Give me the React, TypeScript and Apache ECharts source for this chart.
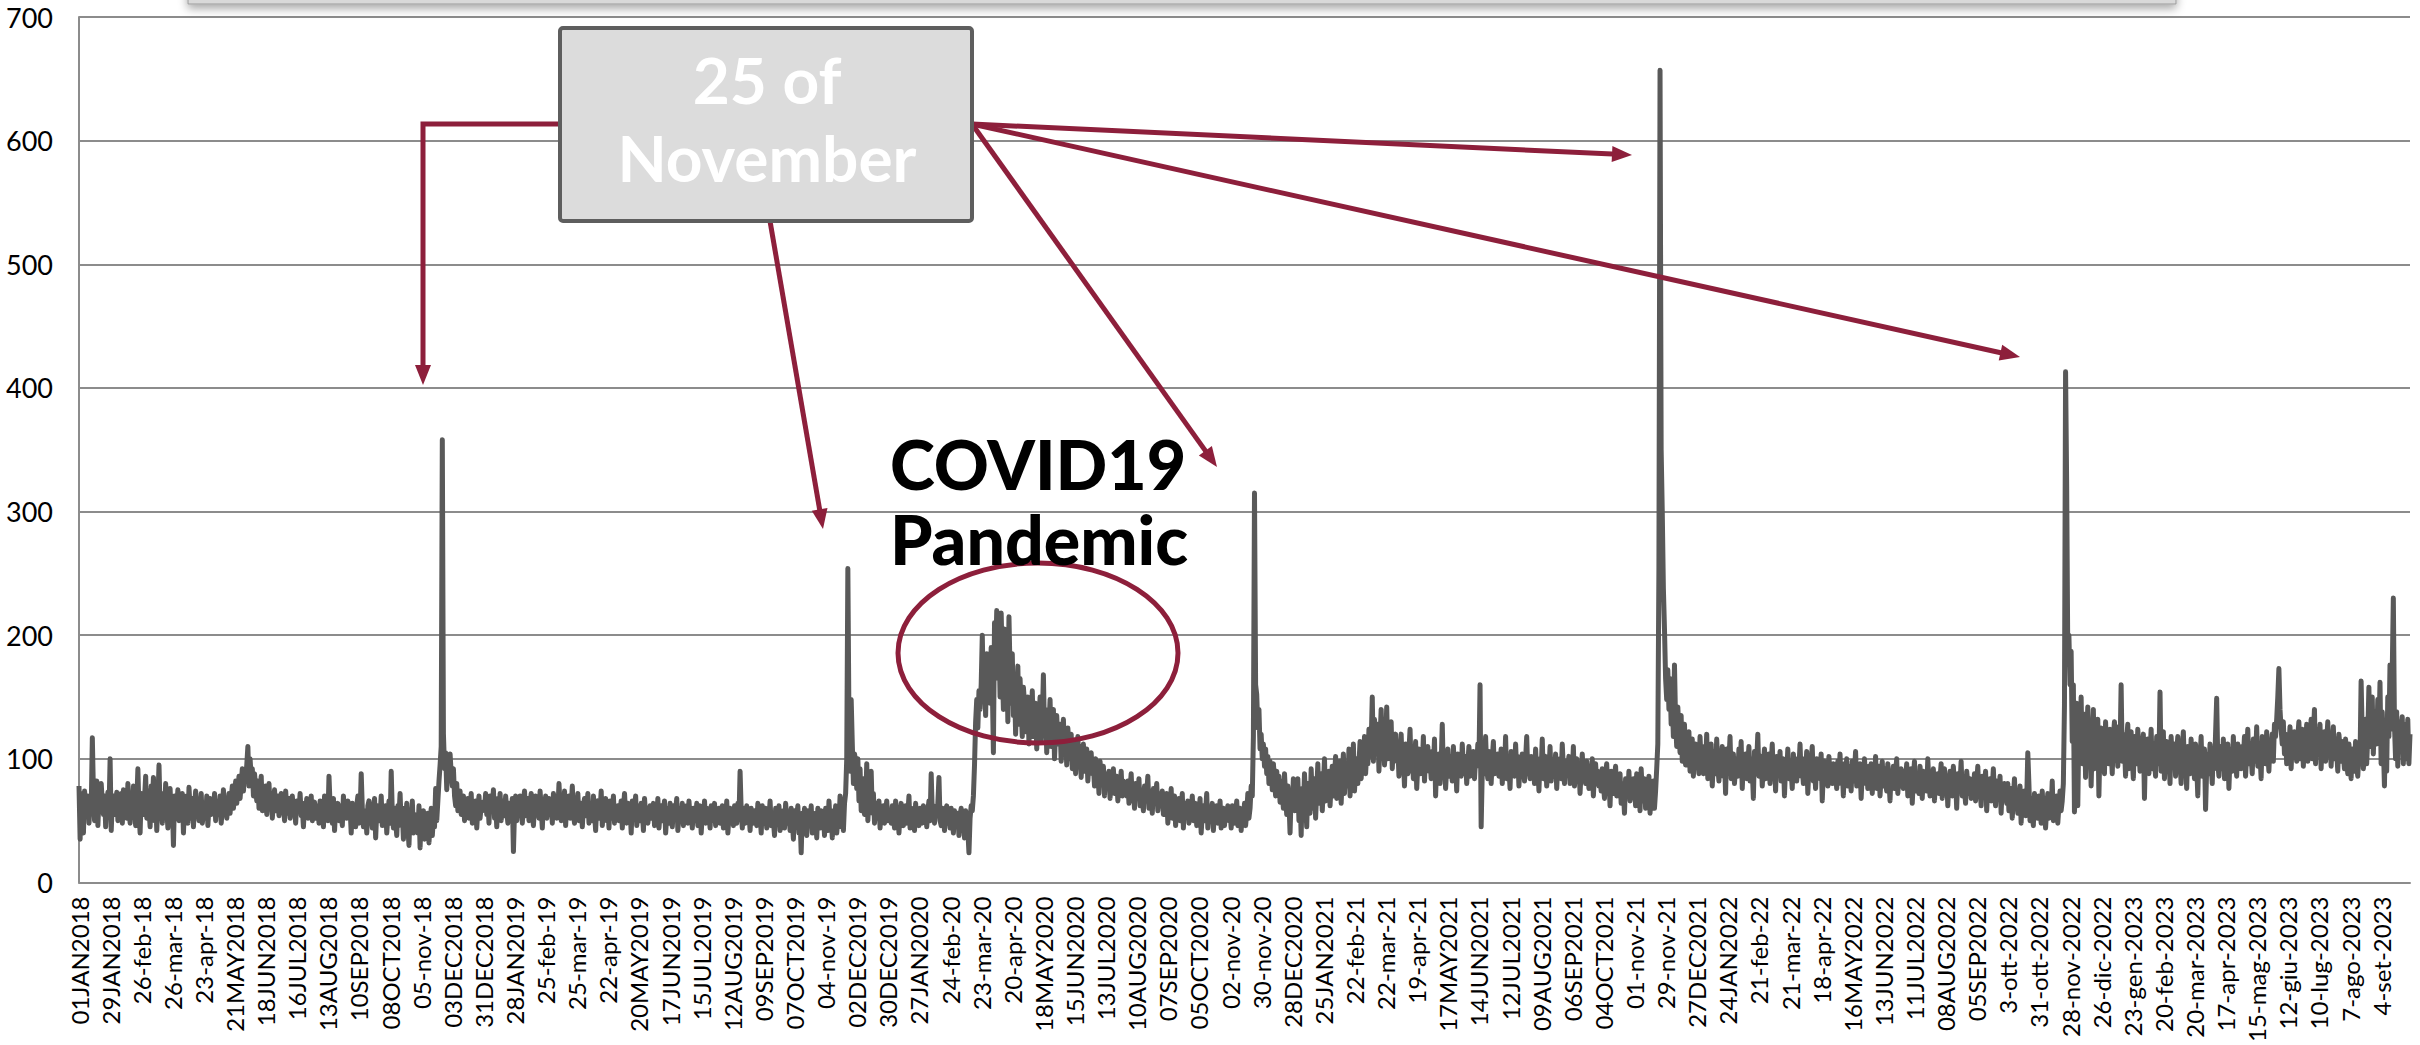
import React, { useEffect, useRef } from "react";
import * as echarts from "echarts";

// Daily values (one array per year, month by month)
const y2018 = [
  78, 35, 72, 68, 40, 74, 62, 55, 70, 48, 66, 60, 117, 72, 50, 64, 82, 46, 68, 58, 80, 64, 55, 70, 45, 62, 73, 58, 100, 42, 66,
  70, 55, 62, 73, 50, 68, 60, 72, 48, 75, 58, 66, 52, 80, 62, 48, 70, 56, 78, 60, 46, 66, 92, 58, 40, 72, 64, 55,
  68, 86, 52, 74, 60, 45, 78, 64, 85, 50, 70, 42, 66, 95, 58, 62, 48, 72, 55, 80, 60, 44, 68, 76, 52, 64, 30, 70, 58, 62, 75,
  50, 66, 58, 72, 40, 64, 55, 70, 48, 77, 60, 52, 68, 45, 62, 74, 56, 66, 50, 60, 72, 48, 58, 64, 52, 70, 46, 62, 68, 55,
  64, 58, 72, 50, 66, 62, 55, 70, 48, 60, 75, 58, 66, 52, 62, 72, 56, 68, 78, 60, 70, 82, 64, 75, 86, 68, 80, 92, 74, 88, 84,
  95, 110, 78, 100, 84, 92, 70, 88, 76, 66, 82, 60, 74, 86, 58, 70, 64, 78, 55, 68, 80, 60, 72, 52, 66, 75, 58, 62, 70, 54,
  66, 72, 58, 62, 50, 74, 60, 56, 68, 52, 64, 70, 55, 60, 48, 66, 62, 58, 72, 54, 60, 45, 64, 58, 68, 52, 62, 56, 70, 50, 60,
  65, 52, 58, 62, 48, 66, 56, 60, 45, 70, 58, 64, 50, 86, 62, 55, 48, 68, 42, 60, 56, 64, 50, 58, 62, 46, 70, 54, 60, 52, 66,
  55, 60, 40, 64, 52, 58, 45, 62, 70, 48, 56, 88, 60, 45, 52, 58, 40, 62, 66, 50, 55, 44, 60, 68, 36, 58, 62, 50, 54, 70,
  46, 58, 52, 62, 40, 55, 66, 48, 90, 56, 44, 60, 50, 38, 62, 54, 72, 46, 56, 35, 60, 50, 64, 44, 30, 58, 48, 66, 40, 55, 52,
  50, 40, 62, 28, 54, 46, 58, 35, 50, 44, 56, 32, 48, 60, 38, 52, 45, 76, 50, 66, 82, 95, 110, 358, 120, 92, 105, 75, 100, 96,
  104, 88, 78, 92, 70, 62, 80, 58, 66, 74, 55, 62, 70, 50, 64, 58, 68, 52, 60, 72, 48, 64, 56, 66, 44, 60, 70, 52, 62, 58, 65,
];
const y2019 = [
  60, 72, 55, 66, 48, 70, 58, 62, 75, 52, 64, 45, 68, 56, 72, 50, 62, 66, 54, 70, 58, 48, 64, 60, 52, 68, 25, 58, 70, 50, 64,
  56, 70, 62, 48, 66, 74, 54, 60, 68, 50, 64, 72, 56, 46, 62, 70, 58, 66, 52, 74, 60, 44, 65, 58, 70, 52, 62, 68,
  55, 64, 48, 72, 60, 66, 52, 58, 80, 62, 50, 68, 56, 74, 46, 64, 58, 70, 52, 62, 78, 55, 48, 66, 60, 72, 50, 58, 64, 45, 62,
  68, 54, 60, 72, 48, 58, 64, 50, 70, 56, 42, 62, 66, 52, 58, 74, 46, 60, 55, 68, 50, 62, 44, 66, 58, 52, 70, 48, 60, 56,
  62, 50, 58, 66, 44, 60, 72, 54, 48, 64, 56, 60, 40, 66, 52, 58, 70, 46, 62, 55, 50, 64, 58, 42, 68, 54, 60, 48, 56, 62, 52,
  58, 64, 46, 60, 52, 68, 44, 56, 62, 50, 58, 66, 40, 54, 60, 48, 64, 56, 45, 62, 52, 58, 68, 42, 56, 60, 50, 64, 46, 58,
  54, 62, 48, 66, 52, 58, 44, 60, 56, 50, 64, 46, 58, 62, 40, 56, 52, 66, 48, 60, 54, 58, 44, 62, 50, 56, 64, 46, 58, 52, 60,
  48, 56, 62, 44, 58, 52, 66, 40, 54, 60, 50, 58, 46, 62, 56, 48, 64, 52, 90, 58, 44, 60, 54, 48, 62, 50, 56, 42, 60, 54, 48,
  58, 52, 46, 64, 50, 56, 40, 62, 54, 48, 60, 44, 58, 52, 66, 46, 56, 50, 38, 60, 54, 48, 62, 42, 56, 50, 58, 44, 64, 52,
  48, 56, 42, 60, 50, 35, 58, 46, 54, 62, 40, 52, 24, 56, 48, 60, 44, 38, 58, 50, 46, 62, 40, 54, 48, 56, 36, 60, 50, 44, 58,
  44, 56, 38, 60, 50, 42, 66, 48, 54, 36, 58, 46, 62, 40, 52, 48, 70, 45, 56, 42, 64, 72, 100, 254, 130, 90, 148, 112, 80, 104,
  98, 76, 100, 66, 92, 58, 70, 84, 55, 62, 96, 50, 68, 60, 90, 56, 72, 48, 64, 58, 52, 66, 44, 60, 54, 62, 48, 58, 66, 50, 56,
];
const y2020 = [
  58, 48, 62, 54, 44, 66, 52, 60, 40, 56, 64, 50, 46, 58, 62, 48, 55, 70, 44, 60, 52, 58, 42, 64, 50, 56, 46, 60, 54, 48, 62,
  52, 60, 45, 58, 66, 50, 88, 56, 62, 48, 58, 54, 64, 85, 50, 46, 60, 55, 42, 58, 62, 48, 56, 44, 60, 52, 40, 58, 50,
  46, 56, 38, 54, 60, 44, 50, 36, 58, 48, 42, 24, 52, 62, 58, 70, 95, 130, 148, 125, 155, 140, 160, 200, 150, 170, 135, 185, 160, 175, 145,
  190, 160, 105, 210, 180, 220, 165, 200, 150, 218, 175, 140, 205, 160, 190, 130, 215, 170, 145, 185, 135, 160, 120, 150, 175, 128, 165, 140, 118, 158,
  145, 122, 135, 150, 112, 140, 128, 155, 118, 132, 145, 108, 138, 125, 150, 115, 130, 168, 120, 140, 105, 135, 125, 148, 110, 128, 140, 100, 122, 135, 112,
  120, 128, 98, 115, 132, 105, 118, 95, 125, 110, 100, 120, 92, 108, 115, 88, 104, 118, 96, 110, 85, 102, 112, 90, 100, 108, 82, 98, 92, 105,
  88, 95, 78, 100, 84, 92, 72, 98, 86, 80, 94, 70, 88, 82, 76, 90, 68, 85, 78, 92, 72, 80, 86, 66, 84, 76, 90, 70, 82, 74, 78,
  70, 82, 64, 76, 88, 66, 74, 60, 80, 72, 68, 84, 62, 75, 70, 58, 78, 66, 72, 86, 60, 74, 68, 56, 76, 64, 70, 80, 58, 72, 66,
  62, 74, 55, 68, 60, 72, 48, 66, 58, 76, 52, 64, 70, 46, 62, 56, 68, 50, 60, 72, 44, 64, 58, 54, 66, 48, 62, 56, 70, 50,
  58, 64, 46, 60, 54, 68, 40, 56, 62, 50, 58, 72, 44, 60, 52, 56, 64, 42, 58, 50, 62, 48, 56, 66, 44, 54, 60, 46, 58, 52, 62,
  50, 58, 44, 62, 54, 48, 56, 66, 46, 52, 60, 42, 58, 50, 64, 46, 56, 72, 52, 60, 78, 70, 118, 315, 160, 152, 125, 140, 108, 120,
  100, 112, 94, 108, 88, 102, 80, 98, 92, 75, 96, 84, 70, 90, 78, 86, 65, 82, 74, 60, 88, 70, 55, 78, 66, 40, 72, 62, 84, 58, 76,
];
const y2021 = [
  62, 84, 50, 70, 38, 76, 58, 88, 66, 45, 80, 72, 56, 92, 68, 60, 84, 52, 74, 96, 64, 70, 88, 58, 78, 100, 66, 82, 72, 90, 62,
  80, 94, 70, 86, 102, 68, 90, 76, 98, 64, 88, 104, 72, 92, 84, 78, 108, 70, 96, 86, 112, 74, 90, 100, 80, 96, 114, 84,
  100, 92, 118, 88, 106, 96, 124, 102, 112, 150, 98, 132, 110, 104, 128, 90, 116, 140, 108, 122, 95, 112, 142, 100, 118, 106, 130, 92, 112, 104, 120,
  98, 110, 86, 104, 120, 92, 100, 78, 112, 96, 88, 106, 124, 90, 102, 84, 98, 114, 76, 96, 108, 88, 100, 94, 118, 82, 104, 96, 110, 90,
  100, 84, 106, 92, 116, 70, 98, 90, 104, 80, 96, 128, 88, 100, 76, 94, 108, 86, 102, 96, 82, 110, 92, 98, 74, 104, 90, 100, 86, 112, 94,
  88, 102, 80, 96, 110, 86, 98, 92, 106, 84, 100, 94, 112, 96, 160, 45, 90, 104, 88, 118, 92, 84, 106, 96, 80, 100, 114, 88, 98, 92,
  104, 86, 96, 108, 80, 98, 90, 118, 84, 100, 94, 76, 106, 92, 98, 86, 112, 90, 102, 78, 96, 88, 104, 94, 82, 100, 118, 88, 96, 84, 102,
  92, 98, 80, 108, 88, 96, 74, 100, 90, 116, 84, 94, 102, 78, 96, 88, 110, 82, 98, 92, 86, 104, 76, 96, 90, 100, 84, 112, 92, 80, 98,
  88, 94, 102, 80, 96, 86, 110, 78, 92, 100, 84, 96, 72, 90, 104, 86, 94, 80, 98, 88, 76, 92, 84, 100, 70, 88, 96, 82, 90, 78,
  86, 74, 92, 80, 68, 88, 96, 76, 84, 62, 90, 80, 72, 86, 94, 70, 82, 76, 88, 64, 80, 74, 56, 84, 78, 70, 90, 66, 80, 72, 84,
  76, 62, 88, 70, 80, 58, 92, 74, 66, 84, 60, 78, 70, 86, 56, 72, 64, 82, 60, 74, 92, 112, 255, 657, 350, 300, 238, 205, 165, 148,
  172, 140, 165, 128, 150, 118, 176, 130, 110, 142, 122, 105, 135, 98, 118, 128, 95, 112, 104, 122, 90, 108, 116, 86, 102, 112, 94, 106, 88, 118, 96,
];
const y2022 = [
  102, 88, 110, 95, 120, 84, 100, 92, 112, 78, 98, 106, 88, 116, 94, 82, 104, 96, 110, 86, 100, 72, 108, 92, 98, 118, 84, 96, 104, 80, 94,
  100, 86, 108, 92, 114, 76, 98, 90, 104, 84, 96, 110, 82, 100, 92, 68, 106, 88, 98, 120, 86, 94, 102, 78, 96, 108, 84, 100,
  90, 104, 80, 96, 112, 86, 98, 74, 102, 92, 88, 106, 82, 96, 100, 70, 94, 88, 108, 84, 98, 90, 76, 104, 88, 96, 82, 100, 92, 112, 86,
  94, 80, 100, 88, 106, 72, 92, 86, 98, 110, 82, 94, 76, 100, 88, 96, 84, 104, 66, 90, 98, 84, 92, 78, 102, 88, 94, 80, 96, 86,
  90, 76, 98, 84, 104, 80, 92, 70, 96, 86, 100, 78, 88, 94, 74, 98, 82, 90, 106, 78, 92, 84, 96, 68, 88, 80, 100, 86, 92, 76, 94,
  84, 96, 72, 90, 80, 102, 76, 88, 94, 70, 86, 98, 78, 92, 82, 74, 96, 84, 66, 90, 80, 94, 76, 88, 100, 72, 86, 78, 92, 82,
  76, 90, 82, 96, 70, 86, 78, 92, 64, 84, 98, 74, 88, 80, 72, 94, 82, 68, 90, 78, 86, 74, 100, 80, 70, 88, 76, 92, 66, 84, 78,
  88, 72, 84, 96, 68, 80, 92, 74, 86, 62, 82, 90, 76, 70, 94, 78, 84, 60, 88, 74, 80, 98, 70, 86, 76, 64, 90, 80, 72, 84, 68,
  82, 74, 88, 66, 80, 94, 70, 78, 62, 86, 76, 72, 90, 58, 80, 74, 84, 66, 76, 92, 70, 62, 82, 74, 68, 86, 56, 78, 72, 80,
  74, 64, 80, 58, 70, 76, 52, 68, 84, 62, 72, 56, 66, 78, 48, 70, 62, 74, 54, 66, 105, 80, 50, 68, 58, 46, 72, 60, 64, 52, 70,
  62, 48, 74, 56, 68, 44, 60, 72, 52, 66, 58, 82, 50, 64, 56, 70, 48, 62, 74, 58, 66, 80, 143, 413, 320, 183, 200, 160, 187, 114,
  160, 57, 132, 145, 62, 128, 110, 150, 96, 124, 136, 85, 118, 142, 100, 126, 78, 115, 140, 92, 120, 105, 132, 70, 112, 125, 98, 118, 88, 130, 104,
];
const y2023 = [
  115, 96, 124, 108, 88, 118, 130, 100, 112, 94, 126, 106, 160, 98, 120, 110, 86, 116, 128, 92, 110, 122, 100, 84, 118, 106, 96, 124, 108, 90, 114,
  102, 120, 68, 110, 96, 116, 88, 104, 124, 92, 112, 100, 86, 118, 106, 96, 154, 90, 110, 122, 84, 104, 114, 96, 108, 80, 118, 100,
  96, 112, 86, 104, 118, 92, 100, 80, 108, 122, 94, 102, 76, 110, 98, 88, 116, 90, 104, 84, 112, 96, 70, 106, 100, 118, 86, 98, 108, 59, 92,
  104, 88, 112, 96, 80, 108, 92, 120, 149, 98, 86, 110, 100, 92, 116, 84, 104, 96, 112, 76, 100, 108, 90, 118, 94, 102, 86, 112, 98, 106,
  92, 110, 100, 118, 86, 104, 124, 96, 112, 102, 88, 116, 108, 98, 126, 94, 110, 104, 84, 118, 100, 112, 96, 122, 106, 90, 114, 102, 120, 98, 128,
  118, 132, 150, 173, 140, 124, 112, 130, 104, 120, 96, 116, 108, 126, 92, 114, 102, 122, 110, 98, 118, 130, 100, 112, 124, 94, 116, 106, 128, 98,
  120, 108, 132, 100, 118, 140, 96, 124, 112, 104, 128, 92, 116, 108, 122, 98, 114, 130, 102, 118, 94, 112, 126, 100, 116, 106, 90, 120, 110, 98, 114,
  104, 92, 116, 98, 88, 112, 100, 84, 108, 96, 90, 114, 94, 86, 106, 98, 163, 120, 92, 104, 132, 96, 118, 158, 110, 126, 150, 104, 138, 122, 112,
  148, 120, 162, 96, 138, 112, 78, 130, 90, 150, 118, 176, 124, 170, 230, 128, 100, 138, 94, 130, 110, 124, 134, 96, 118, 128, 100, 132, 96, 120,
];

// Tick labels, one every 28 days from 01JAN2018
const tickLabels = [
  "01JAN2018", "29JAN2018", "26-feb-18", "26-mar-18", "23-apr-18", "21MAY2018", "18JUN2018", "16JUL2018",
  "13AUG2018", "10SEP2018", "08OCT2018", "05-nov-18", "03DEC2018", "31DEC2018", "28JAN2019", "25-feb-19",
  "25-mar-19", "22-apr-19", "20MAY2019", "17JUN2019", "15JUL2019", "12AUG2019", "09SEP2019", "07OCT2019",
  "04-nov-19", "02DEC2019", "30DEC2019", "27JAN2020", "24-feb-20", "23-mar-20", "20-apr-20", "18MAY2020",
  "15JUN2020", "13JUL2020", "10AUG2020", "07SEP2020", "05OCT2020", "02-nov-20", "30-nov-20", "28DEC2020",
  "25JAN2021", "22-feb-21", "22-mar-21", "19-apr-21", "17MAY2021", "14JUN2021", "12JUL2021", "09AUG2021",
  "06SEP2021", "04OCT2021", "01-nov-21", "29-nov-21", "27DEC2021", "24JAN2022", "21-feb-22", "21-mar-22",
  "18-apr-22", "16MAY2022", "13JUN2022", "11JUL2022", "08AUG2022", "05SEP2022", "3-ott-2022", "31-ott-2022",
  "28-nov-2022", "26-dic-2022", "23-gen-2023", "20-feb-2023", "20-mar-2023", "17-apr-2023", "15-mag-2023",
  "12-giu-2023", "10-lug-2023", "7-ago-2023", "4-set-2023",
];
const LABEL_STEP = 28;

const values = [...y2018, ...y2019, ...y2020, ...y2021, ...y2022, ...y2023];
const categories = values.map((_, i) => String(i));

const FONT = 'Lato, "Open Sans", "DejaVu Sans", sans-serif';
const CRIMSON = "#8d1f3b";

function arrowHead(x1: number, y1: number, x2: number, y2: number, len = 20, half = 8) {
  const a = Math.atan2(y2 - y1, x2 - x1);
  const bx = x2 - len * Math.cos(a);
  const by = y2 - len * Math.sin(a);
  const px = -Math.sin(a) * half;
  const py = Math.cos(a) * half;
  return {
    type: "polygon",
    shape: { points: [[x2, y2], [bx + px, by + py], [bx - px, by - py]] },
    style: { fill: CRIMSON },
    z: 100,
  };
}
function arrowLine(pts: number[][]) {
  const n = pts.length;
  const [x1, y1] = pts[n - 2];
  const [x2, y2] = pts[n - 1];
  const a = Math.atan2(y2 - y1, x2 - x1);
  const end = [x2 - 14 * Math.cos(a), y2 - 14 * Math.sin(a)];
  const linePts = [...pts.slice(0, n - 1), end];
  return [
    {
      type: "polyline",
      shape: { points: linePts },
      style: { stroke: CRIMSON, lineWidth: 5, fill: null, lineJoin: "miter" },
      z: 100,
    },
    arrowHead(x1, y1, x2, y2),
  ];
}

export default function App() {
  const ref = useRef<HTMLDivElement>(null);
  useEffect(() => {
    document.body.style.margin = "0";
    const chart = echarts.init(ref.current!, null, { renderer: "svg" });
    const graphics: any[] = [
      {
        type: "rect",
        shape: { x: 188, y: -30, width: 1988, height: 34 },
        style: { fill: "#d9d9d9", stroke: "#9a9a9a", lineWidth: 1, shadowBlur: 10, shadowOffsetY: 4, shadowColor: "rgba(0,0,0,0.35)" },
        z: 90,
      },
      ...arrowLine([[560, 124], [423, 124], [423, 385]]),
      ...arrowLine([[770, 221], [823, 529]]),
      ...arrowLine([[972, 124], [1217, 467]]),
      ...arrowLine([[972, 124], [1632, 155]]),
      ...arrowLine([[972, 124], [2020, 357]]),
      {
        type: "rect",
        shape: { x: 560, y: 28, width: 412, height: 193, r: 3 },
        style: { fill: "#dcdcdc", stroke: "#5e5e5e", lineWidth: 4 },
        z: 101,
      },
      {
        type: "text",
        x: 767,
        y: 79,
        style: { text: "25 of", fill: "#ffffff", font: `bold 64px ${FONT}`, align: "center", verticalAlign: "middle" },
        z: 102,
      },
      {
        type: "text",
        x: 767,
        y: 157,
        style: { text: "November", fill: "#ffffff", font: `bold 64px ${FONT}`, align: "center", verticalAlign: "middle" },
        z: 102,
      },
      {
        type: "text",
        x: 890,
        y: 463,
        style: { text: "COVID19", fill: "#000000", font: `900 68px ${FONT}`, align: "left", verticalAlign: "middle" },
        z: 102,
      },
      {
        type: "text",
        x: 890,
        y: 538,
        style: { text: "Pandemic", fill: "#000000", font: `900 68px ${FONT}`, align: "left", verticalAlign: "middle" },
        z: 102,
      },
      {
        type: "ellipse",
        shape: { cx: 1038, cy: 653, rx: 140, ry: 90 },
        style: { fill: null, stroke: CRIMSON, lineWidth: 5 },
        z: 100,
      },
    ];
    chart.setOption({
      animation: false,
      backgroundColor: "#ffffff",
      grid: { left: 79, right: 10, top: 17, bottom: 161, containLabel: false },
      xAxis: {
        type: "category",
        data: categories,
        boundaryGap: false,
        axisLine: { lineStyle: { color: "#8c8c8c", width: 2 } },
        axisTick: { show: false },
        axisLabel: {
          interval: (i: number) => i % LABEL_STEP === 0,
          formatter: (_v: string, i: number) => tickLabels[i / LABEL_STEP] ?? "",
          rotate: 90,
          margin: 14,
          color: "#000000",
          fontSize: 24,
          fontFamily: FONT,
        },
        splitLine: { show: false },
      },
      yAxis: {
        type: "value",
        min: 0,
        max: 700,
        interval: 100,
        axisLine: { show: true, lineStyle: { color: "#8c8c8c", width: 2 } },
        axisTick: { show: false },
        axisLabel: { color: "#000000", fontSize: 27, fontFamily: FONT, margin: 26 },
        splitLine: { lineStyle: { color: "#8c8c8c", width: 2 } },
      },
      series: [
        {
          type: "line",
          data: values,
          symbol: "none",
          lineStyle: { color: "#595959", width: 5, join: "round" },
          z: 3,
        },
      ],
      graphic: graphics,
    });
    return () => chart.dispose();
  }, []);
  return <div ref={ref} style={{ position: "fixed", left: 0, top: 0, width: 2420, height: 1045 }} />;
}
